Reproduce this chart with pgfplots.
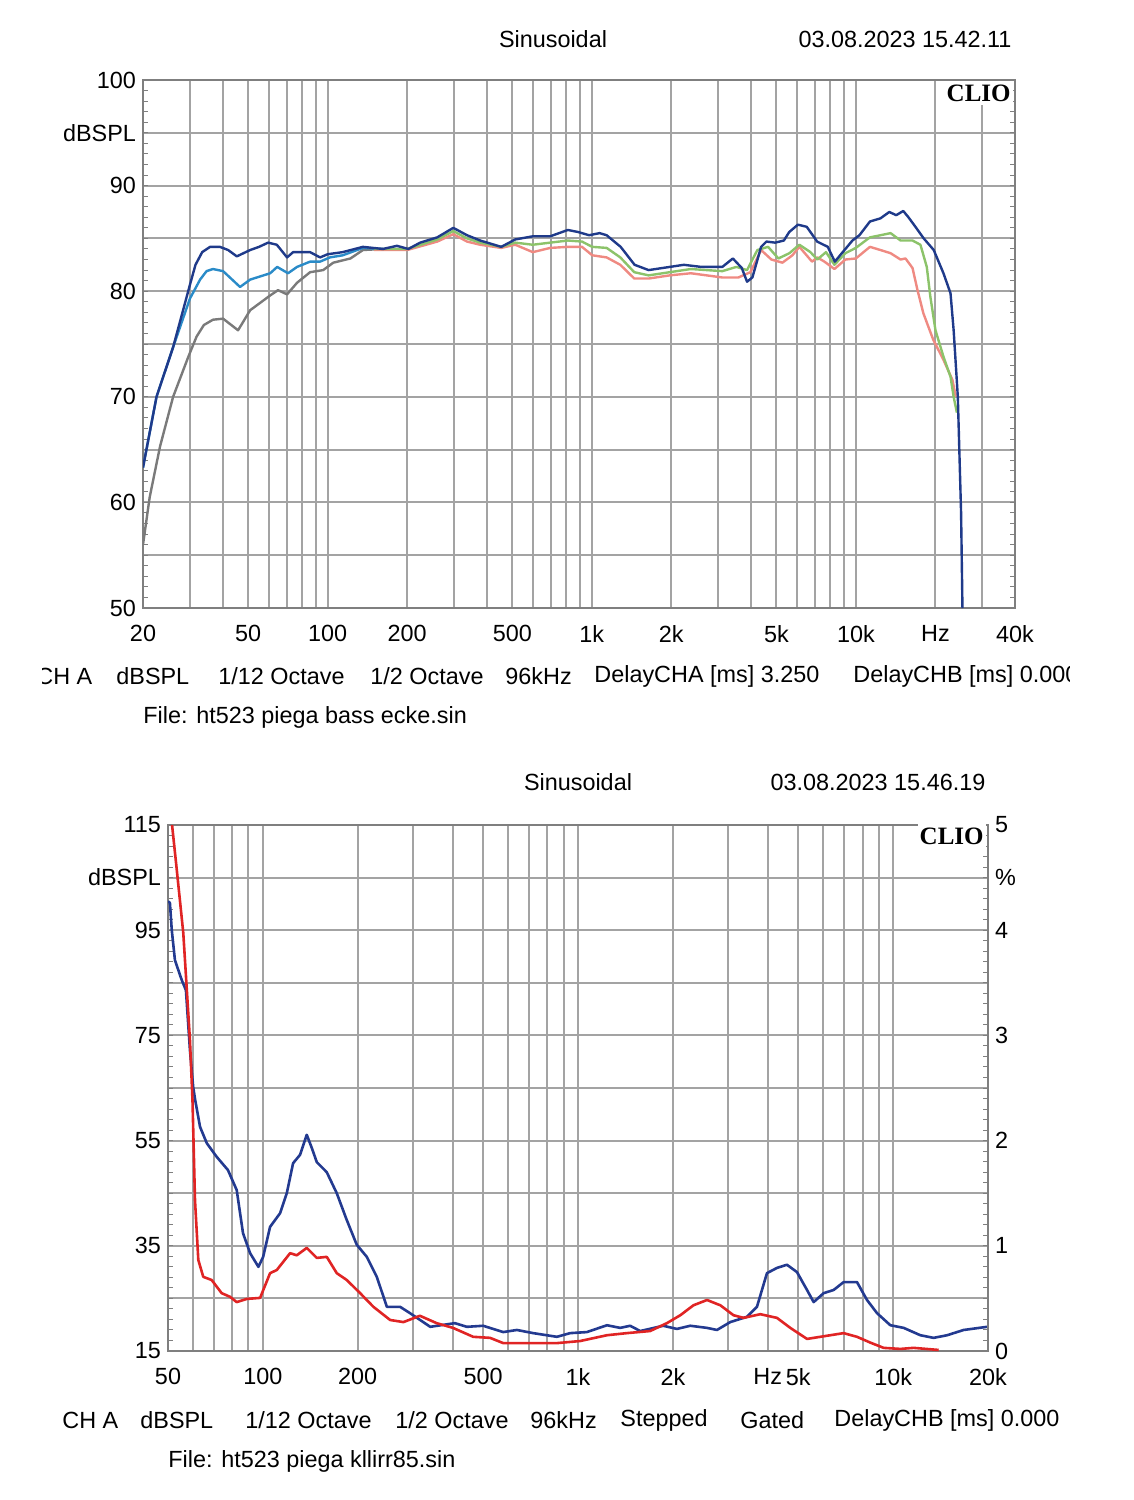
\documentclass[border=0pt]{standalone}
\usepackage{fontspec}
\setmainfont{Liberation Sans}
\newfontfamily\cliofont{Liberation Serif}
\usepackage{pgfplots}
\pgfplotsset{compat=1.18}

\definecolor{gridc}{HTML}{A3A3A3}
\definecolor{framec}{HTML}{7F7F7F}
\definecolor{navy}{HTML}{1F3A8A}
\definecolor{lblue}{HTML}{2A8BC8}
\definecolor{grayc}{HTML}{7A7A7A}
\definecolor{greenc}{HTML}{8CC36A}
\definecolor{salmon}{HTML}{EF8A82}
\definecolor{redc}{HTML}{E02424}
\definecolor{blue2}{HTML}{233A90}

\newcommand\lab{\fontsize{11.7}{14}\selectfont}

\pgfplotsset{cliostyle/.style={
  scale only axis, anchor=south west,
  axis line style={draw=framec, line width=1.2pt},
  grid style={draw=gridc, line width=1pt},
  major tick length=0pt, minor tick length=2.5pt,
  tick align=inside, minor tick style={draw=framec, line width=0.5pt},
  tick label style={font=\lab},
  xticklabel style={yshift=-5pt},
}}

\begin{document}
\begin{tikzpicture}
\useasboundingbox (0,0) rectangle (567pt,-750pt);

% ---------- top: frequency response ----------
\begin{axis}[cliostyle, xmode=log, at={(71.5pt,-304pt)}, width=436pt, height=264pt,
  xmin=20, xmax=40000, ymin=50, ymax=100,
  xmajorgrids, ymajorgrids, minor xtick={},
  xtick={20,30,40,50,60,70,80,90,100,200,300,400,500,600,700,800,900,1000,2000,3000,4000,5000,6000,7000,8000,9000,10000,20000,30000,40000},
  xticklabels={20,{},{},50,{},{},{},{},100,200,{},{},500,{},{},{},{},1k,2k,{},{},5k,{},{},{},{},10k,Hz,{},40k},
  ytick={50,55,...,100},
  yticklabels={50,{},60,{},70,{},80,{},90,dBSPL,100},
  minor ytick={50,51,...,100},
  yticklabel pos=left,
]
\addplot[grayc, line width=1.2pt, line join=round] coordinates {
(20,56.0)(21.2,60.5)(23.2,65.3)(26.0,70.0)(29.7,73.8)(31.9,75.7)(34,76.8)(36.8,77.3)(40.2,77.4)
(45.8,76.3)(50.9,78.2)(60.6,79.6)(64.9,80.1)(70.2,79.7)(76.6,80.8)(85.8,81.8)(96.2,82.0)
(105,82.7)(122,83.1)(136,83.9)(162,84.0)(200,84.0)};
\addplot[lblue, line width=1.2pt, line join=round] coordinates {
(20,63.3)(22.5,70.0)(26.0,74.7)(30.1,79.3)(32.9,81.1)(34.8,81.9)(36.8,82.1)(40.2,81.9)
(46.6,80.4)(50.9,81.1)(60.6,81.7)(64.4,82.3)(70.8,81.7)(76.6,82.3)(85.8,82.8)(93.6,82.8)
(102,83.2)(114,83.4)(136,84.1)(162,84.0)(200,84.0)};
\addplot[salmon, line width=1.2pt, line join=round] coordinates {
(150,83.9)(200,83.9)(260,84.7)(299,85.4)(337,84.7)(378,84.4)(454,84.1)(513,84.4)(598,83.7)
(696,84.1)(812,84.2)(918,84.2)(1004,83.4)(1138,83.2)(1282,82.5)(1448,81.2)(1641,81.2)
(1973,81.5)(2371,81.7)(3120,81.3)(3588,81.3)(3984,81.8)(4374,83.9)(4784,83.0)(5268,82.7)
(5745,83.4)(6106,84.2)(6818,82.8)(7140,83.2)(7596,82.8)(8288,82.1)(9120,83.0)(9988,83.1)
(11296,84.2)(12380,83.9)(13520,83.6)(14750,83.0)(15400,83.1)(16370,82.2)(17100,80.1)
(18000,77.9)(19620,75.4)(21440,73.5)(23180,71.6)(23870,70.0)};
\addplot[greenc, line width=1.2pt, line join=round] coordinates {
(150,84.0)(200,84.0)(260,84.9)(299,85.7)(337,85.0)(378,84.6)(454,84.2)(513,84.6)(598,84.4)
(696,84.6)(812,84.8)(918,84.7)(1004,84.2)(1138,84.1)(1282,83.2)(1448,81.8)(1641,81.5)
(1973,81.8)(2371,82.1)(3120,81.9)(3527,82.3)(3870,82.0)(4234,83.9)(4648,84.2)(5085,83.1)
(5598,83.6)(6106,84.4)(6724,83.7)(7140,83.0)(7702,83.7)(8288,82.5)(9120,83.6)(9988,84.1)
(11296,85.1)(12380,85.3)(13520,85.5)(14750,84.8)(16370,84.8)(17540,84.4)(18540,82.3)
(19120,79.5)(20000,76.3)(21440,73.8)(22800,71.9)(23430,70.0)(24100,68.5)};
\addplot[navy, line width=1.2pt, line join=round] coordinates {
(20,63.3)(22.5,70.0)(26.0,74.7)(30.1,80.6)(31.6,82.5)(33.5,83.7)(35.9,84.2)(39.1,84.2)
(42,83.9)(45.3,83.3)(50.9,83.9)(55,84.2)(59.5,84.6)(64.2,84.4)(70.2,83.2)(74,83.7)
(85.8,83.7)(93.6,83.2)(100,83.5)(114,83.7)(136,84.2)(162,84.0)(183,84.3)(202,84.0)
(224,84.6)(260,85.1)(299,86.0)(337,85.3)(378,84.8)(454,84.2)(513,84.9)(598,85.2)
(696,85.2)(812,85.8)(889,85.6)(977,85.3)(1070,85.5)(1138,85.3)(1286,84.2)(1452,82.5)
(1641,82.0)(1973,82.3)(2230,82.5)(2598,82.3)(3120,82.3)(3420,83.1)(3696,82.2)(3870,80.9)
(4054,81.3)(4374,84.2)(4580,84.7)(4943,84.6)(5335,84.8)(5587,85.6)(6027,86.3)(6510,86.1)
(7130,84.7)(7823,84.2)(8318,82.8)(8842,83.6)(9698,84.8)(10306,85.3)(11296,86.6)
(12380,86.9)(13366,87.5)(14212,87.2)(15102,87.6)(15802,87.0)(16792,86.1)(18050,85.0)
(19700,83.9)(21440,81.7)(22800,79.8)(23430,76.3)(24300,70.0)(25000,59.0)(25300,50)};
\end{axis}

% ---------- bottom: distortion ----------
\begin{axis}[cliostyle, xmode=log, at={(84pt,-675.5pt)}, width=410pt, height=263pt,
  xmin=50, xmax=20000, ymin=15, ymax=115,
  xmajorgrids, ymajorgrids, minor xtick={},
  xtick={50,60,70,80,90,100,200,300,400,500,600,700,800,900,1000,2000,3000,4000,5000,6000,7000,8000,9000,10000,20000},
  xticklabels={50,{},{},{},{},100,200,{},{},500,{},{},{},{},1k,2k,{},Hz,5k,{},{},{},{},10k,20k},
  ytick={15,25,...,115},
  yticklabels={15,{},35,{},55,{},75,{},95,dBSPL,115},
  minor ytick={15,17,...,115},
  ytick pos=left,
]
\addplot[blue2, line width=1.3pt, line join=round] coordinates {
(50,100.5)(50.7,100.2)(51.4,95)(52.6,89.3)(55.3,85.5)(57.0,83.6)(58.7,72.2)(60.1,65.2)
(61,62.7)(63.2,57.6)(66.4,54.5)(71.4,51.9)(77.5,49.4)(82.6,45.6)(86.5,37.4)(91.1,33.6)
(96.8,31.0)(100.2,32.9)(105.4,38.6)(113.4,41.2)(119.1,45.0)(124.7,50.7)(131.2,52.3)
(137.8,56.1)(143.0,53.6)(148.3,50.9)(159.5,49.0)(171.6,45.0)(184.6,39.9)(198.6,35.2)
(213.7,32.9)(229.9,29.1)(247.4,23.4)(272.6,23.4)(293,22.2)(339.7,19.6)(406.6,20.3)
(444,19.6)(500,19.8)(579,18.6)(640,19.0)(721,18.4)(857,17.7)(944,18.4)(1067,18.6)
(1235,19.9)(1361,19.4)(1464,19.8)(1576,18.8)(1864,19.8)(2060,19.2)(2270,19.8)
(2566,19.4)(2760,19.0)(3042,20.5)(3436,21.5)(3697,23.4)(3978,29.8)(4279,30.8)(4603,31.4)
(4953,30.0)(5330,26.6)(5595,24.3)(6017,26.0)(6473,26.6)(6964,28.1)(7680,28.1)(8262,24.7)
(8888,22.2)(9798,19.9)(10799,19.4)(12198,18.0)(13445,17.5)(14830,18.0)(16742,19.0)
(19860,19.6)(20000,19.6)};
\addplot[redc, line width=1.3pt, line join=round] coordinates {
(51.4,115.5)(53.2,107.0)(55.9,94.5)(57.3,84.2)(58.7,74.1)(59.8,62.7)(60.9,43.7)(62.4,32.3)
(64.7,29.1)(68.8,28.5)(74.0,26.0)(78.7,25.3)(82.6,24.3)(88.9,24.9)(98.0,25.1)(105.4,29.8)
(110.7,30.4)(122.0,33.6)(128.1,33.2)(137.8,34.6)(148.3,32.7)(159.5,32.9)(171.6,29.8)
(184.6,28.5)(203.5,26.0)(224.3,23.4)(253.4,20.9)(279.3,20.5)(315,21.7)(356,20.3)
(401,19.4)(465,17.7)(526,17.5)(579,16.5)(721,16.5)(857,16.5)(1016,16.9)(1235,18.0)
(1429,18.4)(1694,18.8)(1915,20.3)(2111,21.8)(2326,23.7)(2566,24.7)
(2828,23.7)(3116,21.8)(3353,21.3)(3788,22.0)(4279,21.3)(4716,19.4)(5330,17.3)(5873,17.7)
(6964,18.4)(7680,17.7)(8464,16.6)(9327,15.6)(10542,15.4)(11614,15.6)(13946,15.2)};
\end{axis}
\begin{axis}[cliostyle, xmode=log, at={(84pt,-675.5pt)}, width=410pt, height=263pt,
  xmin=50, xmax=20000, ymin=0, ymax=5,
  axis x line=none, axis y line*=right,
  ytick={0,1,2,3,4,4.5,5},
  yticklabels={0,1,2,3,4,\%,5},
  minor ytick={0,0.1,...,5},
]
\addplot[draw=none] coordinates {(100,0)(1000,5)};
\end{axis}

% ---------- texts ----------
\begin{scope}[x=0.5pt,y=-0.5pt, every node/.style={font=\lab, inner sep=0pt}]
\node at (553,39) {Sinusoidal};
\node at (905,39) {03.08.2023 15.42.11};
\node[anchor=east, fill=white, inner xsep=1pt, inner ysep=2pt,
  font=\cliofont\bfseries\fontsize{12.5}{14}\selectfont] at (1013,93) {CLIO};
\begin{scope}
\clip (42,650) rectangle (1069,700);
\node[anchor=west] at (36,676) {CH A};
\node[anchor=west] at (116,676) {dBSPL};
\node[anchor=west] at (218,676) {1/12 Octave};
\node[anchor=west] at (370,676) {1/2 Octave};
\node[anchor=west] at (505,676) {96kHz};
\node[anchor=west] at (594,676) {DelayCHA [ms] 3.250};
\node[anchor=west] at (853,676) {DelayCHB [ms] 0.000};
\end{scope}
\node[anchor=west] at (143,717) {File: ht523 piega bass ecke.sin};

\node at (578,782) {Sinusoidal};
\node at (878,782) {03.08.2023 15.46.19};
\node[anchor=east, fill=white, inner xsep=1pt, inner ysep=2pt,
  font=\cliofont\bfseries\fontsize{12.5}{14}\selectfont] at (986,836) {CLIO};
\node[anchor=west] at (62,1420) {CH A};
\node[anchor=west] at (140,1420) {dBSPL};
\node[anchor=west] at (245,1420) {1/12 Octave};
\node[anchor=west] at (395,1420) {1/2 Octave};
\node[anchor=west] at (530,1420) {96kHz};
\node[anchor=west] at (620,1420) {Stepped};
\node[anchor=west] at (740,1420) {Gated};
\node[anchor=west] at (834,1420) {DelayCHB [ms] 0.000};
\node[anchor=west] at (168,1461) {File: ht523 piega kllirr85.sin};
\end{scope}
\end{tikzpicture}
\end{document}
